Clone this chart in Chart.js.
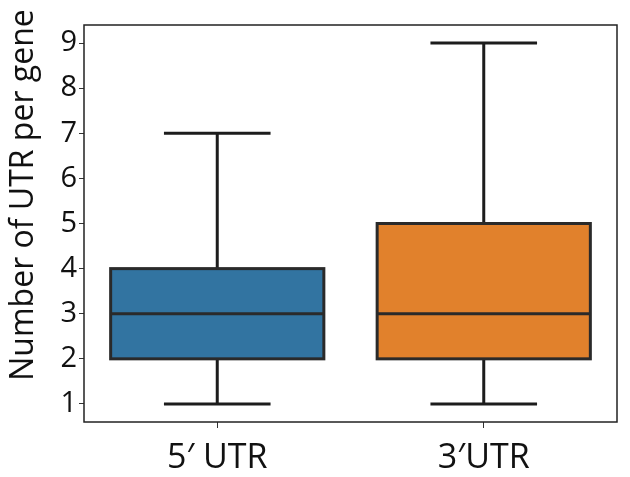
<!DOCTYPE html>
<html>
<head>
<meta charset="utf-8">
<script src="https://cdn.jsdelivr.net/npm/chart.js@4/dist/chart.umd.min.js"></script>
<style>
  html, body { margin: 0; padding: 0; background: #fff; }
  canvas { display: block; }
</style>
</head>
<body>
<canvas id="canvas" width="630" height="477"></canvas>
<script>
/* Data */
const categories = ["5\u2032 UTR", "3\u2032UTR"];
const whiskerLow = [1, 1];
const q1 = [2, 2];
const median = [3, 3];
const q3 = [4, 5];
const whiskerHigh = [7, 9];
const yTicks = [1, 2, 3, 4, 5, 6, 7, 8, 9];
const boxColors = ["#3274a1", "#e1812c"];
const yTitle = "Number of UTR per gene";

const FONT = "'Open Sans', 'Noto Sans', sans-serif";

/* Whiskers, caps, box outline, median and frame */
const boxPlugin = {
  id: "boxPlugin",
  beforeDatasetsDraw(chart) {
    const ctx = chart.ctx;
    const x = chart.scales.x;
    const y = chart.scales.y;
    const meta = chart.getDatasetMeta(0);
    ctx.save();
    ctx.strokeStyle = "#1c1c1c";
    ctx.lineWidth = 3;
    categories.forEach((c, i) => {
      const cx = x.getPixelForValue(i);
      const half = meta.data[i].width / 4;
      ctx.beginPath();
      ctx.moveTo(cx, y.getPixelForValue(q1[i]));
      ctx.lineTo(cx, y.getPixelForValue(whiskerLow[i]));
      ctx.moveTo(cx - half, y.getPixelForValue(whiskerLow[i]));
      ctx.lineTo(cx + half, y.getPixelForValue(whiskerLow[i]));
      ctx.moveTo(cx, y.getPixelForValue(q3[i]));
      ctx.lineTo(cx, y.getPixelForValue(whiskerHigh[i]));
      ctx.moveTo(cx - half, y.getPixelForValue(whiskerHigh[i]));
      ctx.lineTo(cx + half, y.getPixelForValue(whiskerHigh[i]));
      ctx.stroke();
    });
    ctx.restore();
  },
  afterDatasetsDraw(chart) {
    const ctx = chart.ctx;
    const x = chart.scales.x;
    const y = chart.scales.y;
    const meta = chart.getDatasetMeta(0);
    const a = chart.chartArea;
    ctx.save();
    ctx.strokeStyle = "#2a2a2a";
    ctx.lineWidth = 3;
    categories.forEach((c, i) => {
      const cx = x.getPixelForValue(i);
      const half = meta.data[i].width / 2;
      const top = y.getPixelForValue(q3[i]);
      const bot = y.getPixelForValue(q1[i]);
      const my = y.getPixelForValue(median[i]);
      ctx.strokeRect(cx - half, top, half * 2, bot - top);
      ctx.beginPath();
      ctx.moveTo(cx - half, my);
      ctx.lineTo(cx + half, my);
      ctx.stroke();
    });
    // frame
    ctx.strokeStyle = "#222";
    ctx.lineWidth = 1.5;
    ctx.strokeRect(a.left, a.top, a.right - a.left, a.bottom - a.top);
    // y title
    ctx.fillStyle = "#111";
    ctx.font = "32px " + FONT;
    ctx.textAlign = "center";
    ctx.textBaseline = "middle";
    ctx.translate(24, 195);
    ctx.rotate(-Math.PI / 2);
    ctx.fillText(yTitle, 0, 0);
    ctx.restore();
  }
};

const ctx = document.getElementById("canvas").getContext("2d");
window.myChart = new Chart(ctx, {
  type: "bar",
  data: {
    labels: categories,
    datasets: [
      {
        data: categories.map((c, i) => [q1[i], q3[i]]),
        backgroundColor: boxColors,
        borderWidth: 0,
        categoryPercentage: 0.8,
        barPercentage: 1,
      },
    ],
  },
  options: {
    responsive: false,
    animation: false,
    devicePixelRatio: 1,
    layout: { padding: { top: 25, right: 13, left: 0, bottom: 0 } },
    plugins: {
      legend: { display: false },
      tooltip: { enabled: false },
    },
    scales: {
      x: {
        offset: true,
        border: { display: false },
        grid: { drawOnChartArea: false, drawTicks: true, tickLength: 6, color: "#333", offset: false },
        ticks: { color: "#111", font: { family: FONT, size: 34 }, padding: 10 },
        afterFit(scale) { scale.height = 55; },
      },
      y: {
        min: 0.6,
        max: 9.4,
        border: { display: false },
        grid: { drawOnChartArea: false, drawTicks: true, tickLength: 5, color: "#333" },
        ticks: { color: "#111", font: { family: FONT, size: 29 }, padding: 2 },
        afterBuildTicks(scale) { scale.ticks = yTicks.map((v) => ({ value: v })); },
        afterFit(scale) { scale.width = 84; },
      },
    },
  },
  plugins: [boxPlugin],
});
</script>
</body>
</html>
